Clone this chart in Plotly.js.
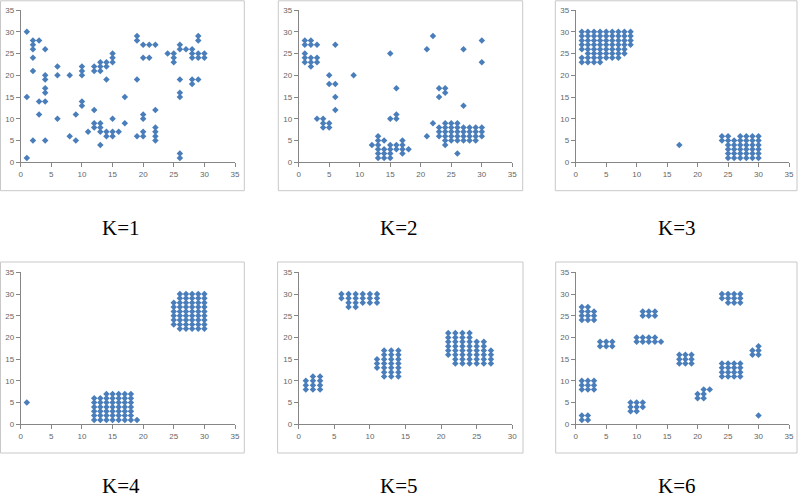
<!DOCTYPE html>
<html><head><meta charset="utf-8">
<script src="https://cdn.plot.ly/plotly-3.0.1.min.js"></script>
<style>body{margin:0;padding:0;background:#fff}#c{width:800px;height:497px}</style>
</head><body><div id="c"></div>
<script>
// Each panel: columns of x values and the y values stacked in that column
const k1Cols = [1,2,3,4,6,8,9,10,11,12,13,14,15,16,17,19,20,21,22,24,25,26,27,28,29,30];
const k1Vals = [[30,15,1],[28,27,26,24,21,5],[28,14,11],[26,20,19,17,16,14,5],[22,20,10],[20,6],[11,5],[22,21,20,14,13],[7],[22,21,12,9,8],[23,22,21,9,8,7,4],[23,22,19,7,6],[25,24,23,10,7,6],[7],[15,9],[29,28,19,6],[27,24,11,10,7,6],[27,24],[27,12,8,7,6,5],[25],[25,24,23],[27,26,19,16,15,2,1],[26],[26,25,24,19,18],[29,28,25,24,19],[25,24]];

const k2Cols = [1,2,3,4,5,6,9,12,13,14,15,16,17,18,21,22,23,24,25,26,27,28,29,30];
const k2Vals = [[28,27,25,24,23],[28,27,24,23,22],[27,24,23,10],[10,9,8],[20,18,9,8],[27,18,15,12],[20],[4],[6,5,4,3,2,1],[5,3,2,1],[25,10,4,3,2,1],[17,11,10,4,3],[5,4,3,2],[3],[26,6],[29,9],[17,15,8,7,6],[17,16,9,8,7,6,5,4],[9,8,7,6,5],[9,8,7,6,5,2],[26,13,8,7,6,5],[8,7,6,5],[8,7,6,5],[28,23,8,7,6]];

const k3Cols = [1,2,3,4,5,6,7,8,9,17,24,25,26,27,28,29,30];
const k3Vals = [[30,29,28,27,26,24,23],[30,29,28,27,26,25,24,23],[30,29,28,27,26,25,24,23],[30,29,28,27,26,25,24,23],[30,29,28,27,26,25,24],[30,29,28,27,26,25,24],[30,29,28,27,26,25,24],[30,29,28,27,26,25],[30,29,28,27],[4],[6,5],[6,5,4,3,2,1],[5,4,3,2,1],[6,5,4,3,2,1],[6,5,4,3,2,1],[6,5,4,3,2,1],[6,5,4,3,2,1]];

const k4Cols = [1,12,13,14,15,16,17,18,19,25,26,27,28,29,30];
const k4Vals = [[5],[6,5,4,3,2,1],[6,5,4,3,2,1],[7,6,5,4,3,2,1],[7,6,5,4,3,2,1],[7,6,5,4,3,2,1],[7,6,5,4,3,2,1],[7,6,5,4,3,2,1],[1],[28,27,26,25,24,23],[30,29,28,27,26,25,24,23,22],[30,29,28,27,26,25,24,23,22],[30,29,28,27,26,25,24,23,22],[30,29,28,27,26,25,24,23,22],[30,29,28,27,26,25,24,23,22]];

const k5Cols = [1,2,3,6,7,8,9,10,11,12,13,14,21,22,23,24,25,26,27];
const k5Vals = [[10,9,8],[11,10,9,8],[11,10,9,8],[30,29],[30,29,28,27],[30,29,28,27],[30,29,28],[30,29,28],[30,29,28,15,14,13],[17,16,15,14,13,12,11],[17,16,15,14,13,12,11],[17,16,15,14,13,12,11],[21,20,19,18,17,16],[21,20,19,18,17,16,15,14],[21,20,19,18,17,16,15,14],[21,20,19,18,17,16,15,14],[19,18,17,16,15,14],[19,18,17,16,15,14],[17,16,15,14]];

const k6Cols = [1,2,3,4,5,6,9,10,11,12,13,14,17,18,19,20,21,22,24,25,26,27,29,30];
const k6Vals = [[27,26,25,24,10,9,8,2,1],[27,26,25,24,10,9,8,2,1],[26,25,24,10,9,8],[19,18],[19,18],[19,18],[5,4,3],[20,19,5,4,3],[26,25,20,19,5,4],[26,25,20,19],[26,25,20,19],[19],[16,15,14],[16,15,14],[16,15,14],[7,6],[8,7,6],[8],[30,29,14,13,12,11],[30,29,28,14,13,12,11],[30,29,28,14,13,12,11],[30,29,28,14,13,12,11],[17,16],[18,17,16,2]];

const panelLabels = ['K=1','K=2','K=3','K=4','K=5','K=6'];
const xMax = [35,35,35,35,30,35];

const W = 800, H = 497;
const px = v => v / W, py = v => 1 - v / H;

const cols = [k1Cols,k2Cols,k3Cols,k4Cols,k5Cols,k6Cols];
const vals = [k1Vals,k2Vals,k3Vals,k4Vals,k5Vals,k6Vals];

// plot-area pixel boxes [x0,x1,yTop,yBottom]
const areas = [
  [20.7,235,10,162.3],[298.7,512.3,10,162.3],[575.7,789,10,162.3],
  [20.7,235,272.3,424.3],[298.7,512.3,272.3,424.3],[575.7,789,272.3,424.3]
];
const frames = [
  [0.5,244.3,0.8,190.7],[278.3,522.7,0.8,190.7],[555.3,797,0.8,190.7],
  [0.5,244.3,262,453],[277.6,523,262,453],[555.7,797,262,453]
];
const labelPos = [[121,228],[399,228],[677,228],[121,486],[399,486],[677,486]];

const traces = [];
const layout = {
  width: W, height: H, margin:{l:0,r:0,t:0,b:0},
  paper_bgcolor:'#fff', plot_bgcolor:'rgba(0,0,0,0)', showlegend:false,
  shapes: [], annotations: []
};
const axisFont = {family:'Liberation Sans, Arial, sans-serif', size:8, color:'#666666'};
for (let i=0;i<6;i++){
  const xs=[], ys=[];
  cols[i].forEach((c,j)=>vals[i][j].forEach(v=>{xs.push(c); ys.push(v);}));
  const s = i===0?'':String(i+1);
  traces.push({x:xs,y:ys,type:'scatter',mode:'markers',xaxis:'x'+s,yaxis:'y'+s,
    marker:{symbol:'diamond',size:5,color:'#4A7EBB',line:{width:0}},hoverinfo:'skip'});
  const a = areas[i];
  layout['xaxis'+s] = {domain:[px(a[0]),px(a[1])], anchor:'y'+s, range:[0,xMax[i]], dtick:5,
    showgrid:false, zeroline:false, showline:true, linecolor:'#868686', linewidth:1,
    ticks:'outside', ticklen:4, tickcolor:'#868686', tickfont:axisFont, fixedrange:true};
  layout['yaxis'+s] = {domain:[py(a[3]),py(a[2])], anchor:'x'+s, range:[0,35], dtick:5,
    showgrid:false, zeroline:false, showline:true, linecolor:'#868686', linewidth:1,
    ticks:'outside', ticklen:4, tickcolor:'#868686', tickfont:axisFont, fixedrange:true};
  const f = frames[i];
  layout.shapes.push({type:'rect', xref:'paper', yref:'paper', x0:px(f[0]), x1:px(f[1]), y0:py(f[3]), y1:py(f[2]),
    line:{color:'#c8c8c8', width:1}, fillcolor:'rgba(0,0,0,0)', layer:'below'});
  layout.annotations.push({text:panelLabels[i], xref:'paper', yref:'paper', x:px(labelPos[i][0]), y:py(labelPos[i][1]),
    xanchor:'center', yanchor:'middle', showarrow:false,
    font:{family:'Liberation Serif, Times New Roman, serif', size:21, color:'#000'}});
}
Plotly.newPlot('c', traces, layout, {staticPlot:true, displayModeBar:false});
</script></body></html>
